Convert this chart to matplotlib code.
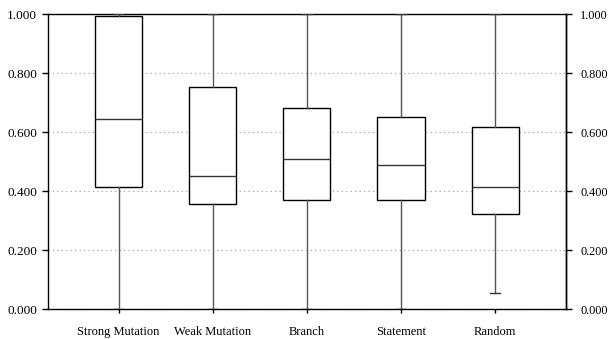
import matplotlib
matplotlib.use("Agg")
import matplotlib.pyplot as plt
from matplotlib.ticker import FormatStrFormatter

# Box statistics
labels = ["Strong Mutation", "Weak Mutation", "Branch", "Statement", "Random"]
whislo = [0.000, 0.000, 0.000, 0.000, 0.056]
q1 = [0.414, 0.356, 0.370, 0.369, 0.323]
med = [0.645, 0.452, 0.511, 0.490, 0.414]
q3 = [0.993, 0.753, 0.683, 0.653, 0.619]
whishi = [1.000, 1.000, 1.000, 1.000, 1.000]
yticks = [0, 0.2, 0.4, 0.6, 0.8, 1.0]

stats = []
for i in range(len(labels)):
    stats.append({"label": labels[i], "whislo": whislo[i], "q1": q1[i],
                  "med": med[i], "q3": q3[i], "whishi": whishi[i], "fliers": []})

plt.rcParams["font.family"] = ["Liberation Serif", "DejaVu Serif"]

fig = plt.figure(figsize=(6.09, 3.39), dpi=100)
ax = fig.add_axes([0.0788, 0.0876, 0.8502, 0.8702])

ax.bxp(stats, widths=0.5, capwidths=0.1, patch_artist=True, showfliers=False,
       boxprops=dict(facecolor="white", edgecolor="black", linewidth=1.0),
       medianprops=dict(color="#333333", linewidth=1.0),
       whiskerprops=dict(color="#555555", linewidth=1.0),
       capprops=dict(color="#333333", linewidth=1.0), zorder=3)

ax.set_xlim(0.25, 5.75)
ax.set_ylim(0, 1)
ax.set_yticks(yticks)
ax.yaxis.set_major_formatter(FormatStrFormatter("%.3f"))
ax.yaxis.grid(True, linestyle=(0, (1, 3)), color="#999999", linewidth=0.8, zorder=0)
ax.set_axisbelow(True)

ax.tick_params(axis="y", direction="out", length=4, width=1,
               labelsize=9.5, pad=4)
ax.tick_params(axis="x", direction="out", length=3, width=1, labelsize=9, pad=9)

# right-hand copy of the y axis, labels sit a bit further out
sec = ax.secondary_yaxis("right")
sec.set_yticks(yticks)
sec.yaxis.set_major_formatter(FormatStrFormatter("%.3f"))
sec.tick_params(direction="out", length=4, width=1, labelsize=8.8, pad=6.5)
sec.spines["right"].set_linewidth(1.0)

for s in ax.spines.values():
    s.set_linewidth(1.0)

fig.savefig("out.png", dpi=100)
